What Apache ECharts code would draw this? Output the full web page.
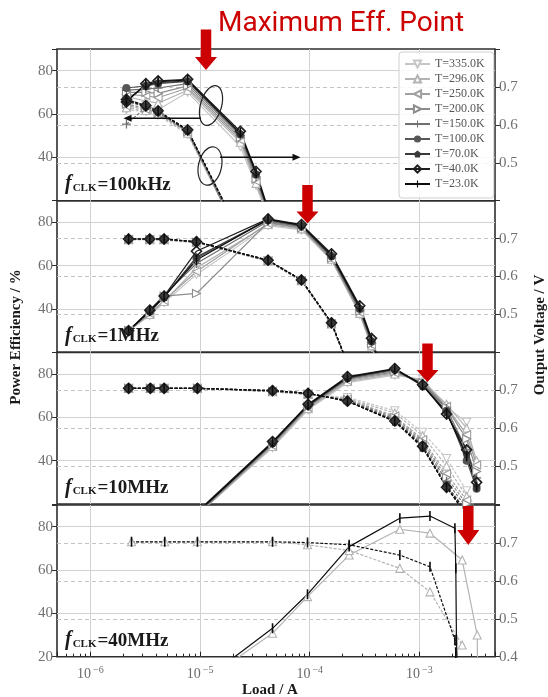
<!DOCTYPE html>
<html>
<head>
<meta charset="utf-8">
<script src="https://cdn.jsdelivr.net/npm/echarts@6/dist/echarts.min.js"></script>
<style>
  html, body { margin: 0; padding: 0; background: #ffffff; }
  #chart { width: 548px; height: 697px; }
</style>
</head>
<body>
<div id="chart"></div>
<script>
// ---- data -------------------------------------------------------------
const temps = ['T=335.0K', 'T=296.0K', 'T=250.0K', 'T=200.0K', 'T=150.0K',
               'T=100.0K', 'T=70.0K', 'T=40.0K', 'T=23.0K'];
const clockLabels = ['100kHz', '1MHz', '10MHz', '40MHz'];

// fCLK = 100 kHz
const load100k = [2.13e-6, 3.2e-6, 4.14e-6, 7.7e-6, 2.33e-5, 3.24e-5, 5.0e-5];
const eff100k = [
  [67, 64, 62, 70, 45, 27, 2],
  [68, 66, 65, 71, 47, 28, 2],
  [69, 68.5, 67.5, 72, 48, 29, 2],
  [70, 70, 69.5, 73, 49, 30, 3],
  [71, 71.5, 72, 74, 50, 31, 3],
  [72, 73, 74, 75, 50.5, 32, 3],
  [66.5, 73, 74.5, 75.2, 51, 32.5, 3],
  [65.5, 74, 75.3, 76, 52, 33.5, 4],
  [66, 73.4, 74.9, 75.7, 51.2, 32.8, 3]
];
const volt100k = [
  [0.640, 0.635, 0.625, 0.575, 0.30, 0.24, 0.20],
  [0.645, 0.638, 0.628, 0.578, 0.30, 0.24, 0.20],
  [0.650, 0.641, 0.630, 0.580, 0.30, 0.24, 0.20],
  [0.655, 0.644, 0.632, 0.582, 0.30, 0.24, 0.20],
  [0.602, 0.646, 0.633, 0.583, 0.30, 0.24, 0.20],
  [0.662, 0.648, 0.634, 0.584, 0.31, 0.25, 0.20],
  [0.665, 0.649, 0.635, 0.585, 0.31, 0.25, 0.20],
  [0.667, 0.651, 0.637, 0.587, 0.31, 0.25, 0.20],
  [0.666, 0.650, 0.636, 0.586, 0.31, 0.25, 0.20]
];

// fCLK = 1 MHz
const load1M = [2.23e-6, 3.48e-6, 4.70e-6, 9.27e-6, 4.17e-5, 8.41e-5, 1.58e-4, 2.86e-4, 3.66e-4, 5.0e-4];
const eff1M = [
  [30, 37, 43, 56, 78.5, 76.5, 62.5, 37.5, 22.5, 4],
  [30, 37.5, 43.5, 59, 79, 77, 63, 38, 23, 4],
  [30, 38, 44, 57.3, 79.5, 77.5, 63, 38.5, 23.5, 4],
  [30, 38, 46, 47.2, 80, 77.5, 63.5, 39, 24, 4],
  [30, 39.5, 46.5, 61, 80.5, 78, 64, 39.5, 24.5, 4],
  [30, 39, 45.5, 63.5, 81, 78.3, 64.5, 40, 25, 5],
  [30, 39, 45.5, 64, 81.2, 78.5, 64.5, 40.5, 25.5, 5],
  [30, 39.5, 46, 66.7, 81.6, 79, 65.5, 41.5, 26.5, 6],
  [30, 39.2, 45.7, 62.6, 81.4, 78.7, 64.9, 40.8, 25.7, 5]
];
const volt1M = [
  [0.697, 0.697, 0.696, 0.689, 0.640, 0.588, 0.474, 0.285, 0.2, 0.1],
  [0.697, 0.697, 0.697, 0.690, 0.641, 0.589, 0.475, 0.286, 0.2, 0.1],
  [0.698, 0.698, 0.697, 0.690, 0.641, 0.589, 0.476, 0.287, 0.2, 0.1],
  [0.698, 0.698, 0.698, 0.691, 0.642, 0.590, 0.476, 0.288, 0.2, 0.1],
  [0.698, 0.698, 0.698, 0.691, 0.642, 0.590, 0.477, 0.288, 0.2, 0.1],
  [0.699, 0.699, 0.698, 0.691, 0.642, 0.590, 0.477, 0.289, 0.2, 0.1],
  [0.699, 0.699, 0.699, 0.692, 0.643, 0.591, 0.478, 0.290, 0.2, 0.1],
  [0.699, 0.699, 0.699, 0.692, 0.643, 0.591, 0.478, 0.290, 0.2, 0.1],
  [0.699, 0.699, 0.699, 0.692, 0.643, 0.591, 0.478, 0.290, 0.2, 0.1]
];

// fCLK = 10 MHz
const load10M = [2.23e-6, 3.52e-6, 4.70e-6, 9.46e-6, 4.58e-5, 9.66e-5, 2.21e-4, 5.97e-4, 1.07e-3, 1.77e-3, 2.70e-3, 3.33e-3];
const eff10M = [
  [2, 5, 8, 15, 46, 63.5, 76, 79.5, 77.5, 64.6, 57.7, 36],
  [2, 5, 8, 15, 46.5, 64, 76.5, 80, 77, 66, 55, 40],
  [2, 5, 8, 15, 47, 64.5, 77, 80.5, 76.5, 65, 52, 38],
  [2, 5, 8, 15.5, 47.5, 65, 77.5, 81, 76, 64.5, 50, 35],
  [2, 5, 8, 15.5, 47.8, 65, 78, 81.5, 75.5, 64, 45, 32],
  [2, 5, 8, 16, 48, 65.3, 78, 82, 75, 63, 40, 27],
  [2, 5, 8, 16, 48.2, 65.5, 78.3, 82.2, 74.5, 62.5, 43, 28],
  [2, 5, 8, 16.5, 48.8, 66, 78.8, 82.5, 75, 61.5, 45, 30],
  [2, 5, 8, 16, 48.4, 65.7, 78.5, 82.3, 74.9, 62, 42, 28]
];
const volt10M = [
  [0.705, 0.705, 0.705, 0.705, 0.696, 0.689, 0.681, 0.646, 0.589, 0.520, 0.435, 0.38],
  [0.705, 0.705, 0.705, 0.705, 0.696, 0.689, 0.678, 0.640, 0.580, 0.500, 0.420, 0.36],
  [0.705, 0.705, 0.705, 0.705, 0.697, 0.690, 0.676, 0.632, 0.570, 0.480, 0.410, 0.35],
  [0.705, 0.705, 0.705, 0.705, 0.697, 0.690, 0.675, 0.628, 0.565, 0.470, 0.400, 0.34],
  [0.705, 0.705, 0.705, 0.705, 0.698, 0.691, 0.673, 0.624, 0.560, 0.460, 0.390, 0.33],
  [0.705, 0.705, 0.705, 0.705, 0.698, 0.691, 0.672, 0.621, 0.555, 0.450, 0.380, 0.32],
  [0.705, 0.705, 0.705, 0.705, 0.699, 0.692, 0.671, 0.617, 0.548, 0.446, 0.370, 0.30],
  [0.705, 0.705, 0.705, 0.705, 0.699, 0.692, 0.671, 0.619, 0.552, 0.444, 0.380, 0.31],
  [0.705, 0.705, 0.705, 0.705, 0.699, 0.692, 0.671, 0.618, 0.550, 0.444, 0.370, 0.30]
];

// fCLK = 40 MHz (only 296 K and 23 K measured)
const load40M = [2.37e-6, 4.76e-6, 9.46e-6, 4.58e-5, 9.55e-5, 2.29e-4, 6.64e-4, 1.25e-3,
                 2.11e-3, 2.15e-3, 2.18e-3, 2.22e-3, 2.46e-3, 3.37e-3, 3.41e-3];
const eff40M = [
  null,
  [1, 3, 6.5, 30.8, 47.7, 66.9, 78.8, 77, null, null, null, null, 64.6, 30, 10],
  null, null, null, null, null, null,
  [1, 3, 7, 33.1, 48.8, 70.8, 83.9, 84.9, 79.3, 60.8, 27.7, 15, null, null, null]
];
const volt40M = [
  null,
  [0.703, 0.703, 0.703, 0.703, 0.695, 0.680, 0.633, 0.571, null, null, null, null, 0.431, null, null],
  null, null, null, null, null, null,
  [0.703, 0.703, 0.703, 0.703, 0.701, 0.695, 0.668, 0.637, 0.444, 0.410, 0.390, 0.350, null, null, null]
];

const panels = [
  { loads: load100k, eff: eff100k, volt: volt100k },
  { loads: load1M,   eff: eff1M,   volt: volt1M },
  { loads: load10M,  eff: eff10M,  volt: volt10M },
  { loads: load40M,  eff: eff40M,  volt: volt40M }
];

// ---- styles -----------------------------------------------------------
const SERIF = '"Liberation Serif", "DejaVu Serif", serif';
const PLUS = 'path://M4.3,0H5.7V10H4.3Z M0,4.3H10V5.7H0Z';
const VBAR = 'path://M0,5H0.01V5.01H0Z M9.99,5H10V5.01H9.99Z M4.2,0H5.8V10H4.2Z';
const PENT = 'path://M5,0L10,3.8L8.1,10H1.9L0,3.8Z';
const tempColors = ['#c6c6c6', '#b3b3b3', '#a0a0a0', '#8c8c8c', '#707070',
                    '#565656', '#3a3a3a', '#1e1e1e', '#0c0c0c'];
const markers = [
  { symbol: 'triangle', rotate: 180, size: 8, hollow: true },
  { symbol: 'triangle', rotate: 0, size: 8, hollow: true },
  { symbol: 'triangle', rotate: 90, size: 8, hollow: true },
  { symbol: 'triangle', rotate: -90, size: 8, hollow: true },
  { symbol: PLUS, rotate: 0, size: 9 },
  { symbol: 'circle', rotate: 0, size: 8 },
  { symbol: PENT, rotate: 0, size: 8 },
  { symbol: 'diamond', rotate: 0, size: 10, hollow: true, open: true },
  { symbol: VBAR, rotate: 0, size: 10 }
];

// ---- layout -----------------------------------------------------------
const PLOT_LEFT = 57, PLOT_RIGHT = 495;
const PANEL_TOPS = [49, 200.7, 352.3, 505];
const PANEL_H = 151.7;
const X_MIN = Math.pow(10, -6.305), X_MAX = Math.pow(10, -2.31);

function decadeLabel(v) {
  const e = Math.log10(v);
  const r = Math.round(e);
  if (Math.abs(e - r) > 0.01) return '';
  return '{b|10}{s|' + (r < 0 ? '\u2212' + (-r) : r) + '}';
}

const grids = [], xAxes = [], yAxes = [], series = [];
PANEL_TOPS.forEach((top, p) => {
  const last = p === PANEL_TOPS.length - 1;
  grids.push({
    left: PLOT_LEFT, width: PLOT_RIGHT - PLOT_LEFT, top: top, height: PANEL_H,
    show: true, borderColor: '#2e2e2e', borderWidth: 1.6, backgroundColor: 'transparent'
  });
  xAxes.push({
    type: 'log', logBase: 10, gridIndex: p, min: X_MIN, max: X_MAX,
    axisLine: { show: false },
    axisTick: { show: last, inside: true, length: 5, lineStyle: { color: '#222', width: 1 } },
    minorTick: { show: last, splitNumber: 9, length: 3, lineStyle: { color: '#222', width: 1 } },
    axisLabel: {
      show: last, margin: 9, formatter: decadeLabel,
      rich: {
        b: { fontFamily: SERIF, fontSize: 14, color: '#6a6a6a', verticalAlign: 'bottom' },
        s: { fontFamily: SERIF, fontSize: 10, color: '#6a6a6a', verticalAlign: 'bottom', padding: [0, 0, 6, 2] }
      }
    },
    splitLine: { show: true, showMinLine: false, showMaxLine: false, lineStyle: { color: '#d2d2d2', width: 1 } }
  });
  yAxes.push({
    type: 'value', gridIndex: p, position: 'left', min: 20, max: 90, interval: 20,
    axisLine: { show: false },
    axisTick: { show: true, length: 5, lineStyle: { color: '#2e2e2e' } },
    axisLabel: {
      margin: 4, fontFamily: SERIF, fontSize: 15, color: '#707070',
      formatter: v => (v === 90 || (v === 20 && !last)) ? '' : String(v)
    },
    splitLine: { show: true, showMinLine: false, showMaxLine: false, lineStyle: { color: '#d2d2d2', width: 1 } }
  });
  yAxes.push({
    type: 'value', gridIndex: p, position: 'right', min: 0.4, max: 0.8, interval: 0.1,
    axisLine: { show: false },
    axisTick: { show: true, length: 5, lineStyle: { color: '#2e2e2e' } },
    axisLabel: {
      margin: 4, fontFamily: SERIF, fontSize: 15, color: '#707070',
      formatter: v => (Math.abs(v - 0.8) < 1e-6 || (Math.abs(v - 0.4) < 1e-6 && !last)) ? '' : v.toFixed(1)
    },
    splitLine: { show: true, showMinLine: false, showMaxLine: false, lineStyle: { color: '#c4c4c4', width: 1, type: [4, 3] } }
  });
});

function lineSeries(p, t, values, isVolt) {
  const m = markers[t];
  const c = tempColors[t];
  const loads = panels[p].loads;
  const data = [];
  loads.forEach((x, i) => { if (values[i] != null) data.push([x, values[i]]); });
  return {
    type: 'line', name: temps[t], xAxisIndex: p, yAxisIndex: 2 * p + (isVolt ? 1 : 0),
    data: data, clip: true, showAllSymbol: true,
    symbol: m.symbol, symbolSize: m.size, symbolRotate: m.rotate,
    itemStyle: {
      color: m.open ? 'rgba(255,255,255,0)' : (m.hollow ? '#ffffff' : c),
      borderColor: c, borderWidth: m.hollow ? (m.open ? 1.6 : 1.1) : 0
    },
    lineStyle: { color: c, width: 1.2, type: isVolt ? [3, 1.6] : 'solid' },
    emphasis: { disabled: true },
    animation: false
  };
}

panels.forEach((panel, p) => {
  temps.forEach((name, t) => {
    if (panel.eff[t]) series.push(lineSeries(p, t, panel.eff[t], false));
    if (panel.volt[t]) series.push(lineSeries(p, t, panel.volt[t], true));
  });
});

// ---- annotations ------------------------------------------------------
function redArrow(cx, top, tip, headH) {
  const bw = 10.5, hw = 22;
  return {
    type: 'polygon', z: 100,
    shape: { points: [[cx - bw / 2, top], [cx + bw / 2, top], [cx + bw / 2, tip - headH],
                      [cx + hw / 2, tip - headH], [cx, tip], [cx - hw / 2, tip - headH],
                      [cx - bw / 2, tip - headH]] },
    style: { fill: '#cc0000' }
  };
}
function panelLabel(p) {
  return {
    type: 'text', z: 90, x: 65, y: PANEL_TOPS[p] + PANEL_H - 16.5,
    style: {
      text: '{f|f}{c|CLK}{t|=' + clockLabels[p] + '}',
      verticalAlign: 'middle', textVerticalAlign: 'middle',
      rich: {
        f: { fontFamily: SERIF, fontSize: 20, fontStyle: 'italic', fontWeight: 'bold', fill: '#1a1a1a', verticalAlign: 'bottom' },
        c: { fontFamily: SERIF, fontSize: 11, fontWeight: 'bold', fill: '#1a1a1a', verticalAlign: 'bottom', padding: [0, 1, 1, 1] },
        t: { fontFamily: SERIF, fontSize: 19, fontWeight: 'bold', fill: '#1a1a1a', verticalAlign: 'bottom' }
      }
    }
  };
}
function blackArrow(x1, x2, y) {
  const dir = x2 > x1 ? 1 : -1;
  return [
    { type: 'line', z: 80, shape: { x1: x1, y1: y, x2: x2 - dir * 6, y2: y }, style: { stroke: '#111', lineWidth: 1.5 } },
    { type: 'polygon', z: 80, shape: { points: [[x2, y], [x2 - dir * 8, y - 3.5], [x2 - dir * 8, y + 3.5]] }, style: { fill: '#111' } }
  ];
}

const graphics = [
  { type: 'text', z: 100, x: 218, y: 24,
    style: { text: 'Maximum Eff. Point', fill: '#cc0000', font: '28px Roboto, "Noto Sans", sans-serif',
             verticalAlign: 'middle', textVerticalAlign: 'middle' } },
  redArrow(206, 29.5, 70, 13),
  redArrow(307.5, 185, 223.5, 12),
  redArrow(427.5, 343.5, 382, 12),
  redArrow(468.3, 506, 545, 15),
  panelLabel(0), panelLabel(1), panelLabel(2), panelLabel(3),
  { type: 'ellipse', z: 80, x: 211, y: 105.5, rotation: -0.28,
    shape: { cx: 0, cy: 0, rx: 10.5, ry: 20.5 }, style: { fill: 'none', stroke: '#222', lineWidth: 1.2 } },
  { type: 'ellipse', z: 80, x: 210, y: 166, rotation: -0.22,
    shape: { cx: 0, cy: 0, rx: 11.5, ry: 19.5 }, style: { fill: 'none', stroke: '#222', lineWidth: 1.2 } },
  ...blackArrow(201, 123.5, 118.3),
  ...blackArrow(220, 300.5, 157.3),
  { type: 'text', z: 90, x: 16, y: 337, rotation: Math.PI / 2,
    style: { text: 'Power Efficiency / %', fill: '#1a1a1a', font: 'bold 15px "Liberation Serif", serif',
             align: 'center', verticalAlign: 'middle', textAlign: 'center', textVerticalAlign: 'middle' } },
  { type: 'text', z: 90, x: 540, y: 335, rotation: Math.PI / 2,
    style: { text: 'Output Voltage / V', fill: '#1a1a1a', font: 'bold 15px "Liberation Serif", serif',
             align: 'center', verticalAlign: 'middle', textAlign: 'center', textVerticalAlign: 'middle' } },
  { type: 'text', z: 90, x: 270, y: 690,
    style: { text: 'Load / A', fill: '#1a1a1a', font: 'bold 15px "Liberation Serif", serif',
             align: 'center', verticalAlign: 'middle', textAlign: 'center', textVerticalAlign: 'middle' } }
];

const chart = echarts.init(document.getElementById('chart'), null, { renderer: 'canvas' });
chart.setOption({
  animation: false,
  backgroundColor: '#ffffff',
  grid: grids,
  xAxis: xAxes,
  yAxis: yAxes,
  legend: {
    data: temps, orient: 'vertical', left: 399, top: 52,
    itemWidth: 25, itemHeight: 9, itemGap: 3, selectedMode: false,
    padding: [6, 9, 8, 5],
    backgroundColor: 'rgba(255,255,255,0.85)', borderColor: '#cfcfcf', borderWidth: 1, borderRadius: 3,
    textStyle: { fontFamily: SERIF, fontSize: 12, color: '#555555', lineHeight: 11.2 }
  },
  series: series,
  graphic: graphics
});
</script>
</body>
</html>
